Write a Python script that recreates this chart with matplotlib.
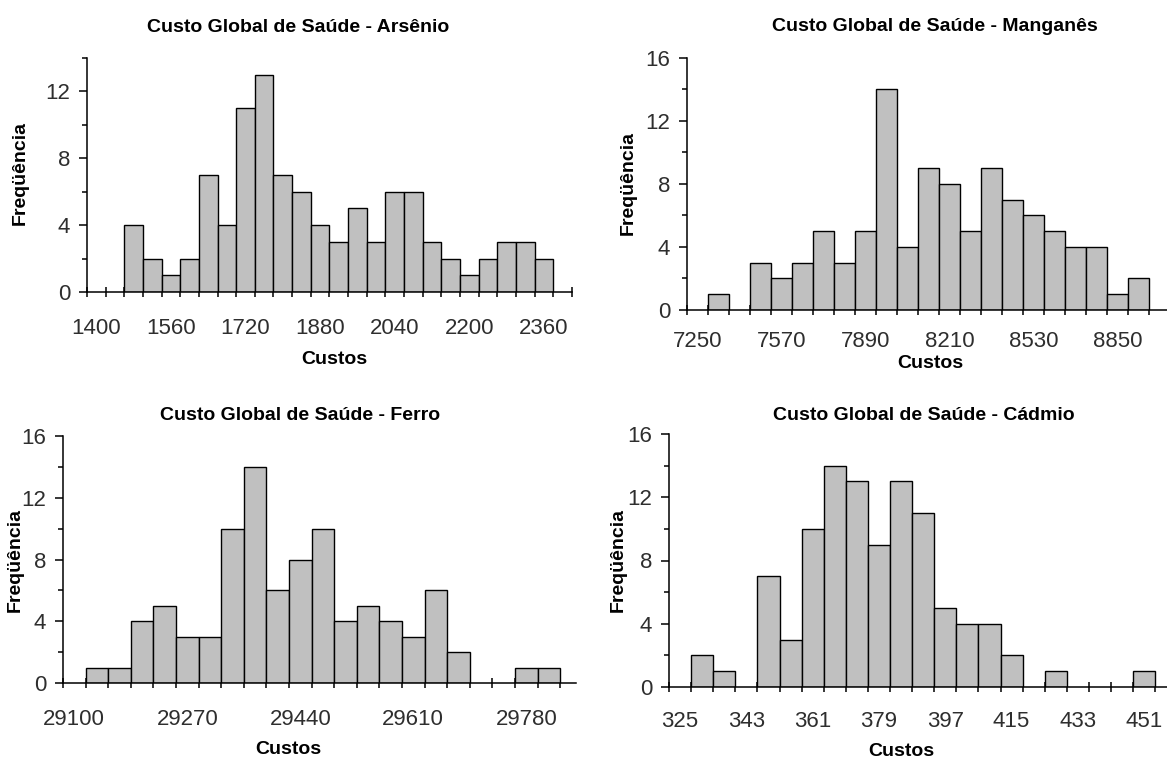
import numpy as np
import matplotlib
matplotlib.use("Agg")
import matplotlib.pyplot as plt
from matplotlib.ticker import FixedLocator, NullFormatter

W, H, DPI = 1167, 761, 100

# Class frequencies of the global health cost, one histogram per metal
arsenio_start, arsenio_width = 1380, 40
arsenio_counts = [0, 0, 4, 2, 1, 2, 7, 4, 11, 13, 7, 6, 4, 3, 5, 3, 6, 6, 3, 2, 1, 2, 3, 3, 2]
arsenio_ticks = [1400, 1560, 1720, 1880, 2040, 2200, 2360]

manganes_start, manganes_width = 7210, 80
manganes_counts = [0, 1, 0, 3, 2, 3, 5, 3, 5, 14, 4, 9, 8, 5, 9, 7, 6, 5, 4, 4, 1, 2]
manganes_ticks = [7250, 7570, 7890, 8210, 8530, 8850]

ferro_start, ferro_width = 29083, 34
ferro_counts = [0, 1, 1, 4, 5, 3, 3, 10, 14, 6, 8, 10, 4, 5, 4, 3, 6, 2, 0, 0, 1, 1]
ferro_ticks = [29100, 29270, 29440, 29610, 29780]

cadmio_start, cadmio_width = 322, 6
cadmio_counts = [0, 2, 1, 0, 7, 3, 10, 14, 13, 9, 13, 11, 5, 4, 4, 2, 0, 1, 0, 0, 0, 1]
cadmio_ticks = [325, 343, 361, 379, 397, 415, 433, 451]

TITLE = "Custo Global de Saúde - {}"
TICK_FONT = ["Liberation Sans", "DejaVu Sans"]
LABEL_FONT = ["Liberation Sans", "DejaVu Sans"]
TICK_COLOR = "#2e2e2e"

fig = plt.figure(figsize=(W / DPI, H / DPI), dpi=DPI)
fig.patch.set_facecolor("white")


def panel(start, width, counts, ticks, name, geom):
    left, top, bottom = geom["left"], geom["top"], geom["bottom"]
    span = geom["axis_bins"] * width
    px_w = geom["px_per_bin"] * geom["axis_bins"]
    ax = fig.add_axes([left / W, 1 - bottom / H, px_w / W, (bottom - top) / H])

    counts = np.asarray(counts)
    edges = start + width * np.arange(len(counts))
    shown = counts > 0
    ax.bar(edges[shown], counts[shown], width=width, align="edge",
           color="#c0c0c0", edgecolor="black", linewidth=1.0, zorder=2)

    ax.set_xlim(start, start + span)
    ax.set_ylim(0, geom["ymax"])

    for side in ("top", "right"):
        ax.spines[side].set_visible(False)
    for side in ("left", "bottom"):
        ax.spines[side].set_linewidth(1.1)
        ax.spines[side].set_zorder(3)

    # x: labels at class midpoints, ticks at every class boundary
    ax.xaxis.set_major_locator(FixedLocator(ticks))
    ax.xaxis.set_minor_locator(FixedLocator(start + width * np.arange(geom["axis_bins"] + 1)))
    ax.xaxis.set_minor_formatter(NullFormatter())
    ax.tick_params(axis="x", which="major", length=0, pad=geom["xpad"],
                   labelsize=16, labelcolor=TICK_COLOR, labelfontfamily=TICK_FONT)
    ax.tick_params(axis="x", which="minor", direction="inout", length=7.5,
                   width=1.1, color="black")

    ymajor = list(range(0, geom["ymax"] + 1, 4))
    yminor = [v for v in range(2, geom["ymax"] + 1, 4)]
    ax.yaxis.set_major_locator(FixedLocator(ymajor))
    ax.yaxis.set_minor_locator(FixedLocator(yminor))
    ax.yaxis.set_minor_formatter(NullFormatter())
    ax.tick_params(axis="y", which="major", direction="out", length=6, width=1.1,
                   pad=6, labelsize=16, labelcolor=TICK_COLOR, labelfontfamily=TICK_FONT)
    ax.tick_params(axis="y", which="minor", direction="out", length=3.5, width=1.1)

    tx, ty = geom["title"]
    ax.set_title(TITLE.format(name), fontsize=14, fontweight="bold",
                 family=LABEL_FONT, va="center", pad=0,
                 x=(tx - left) / px_w, y=(bottom - ty) / (bottom - top))

    ax.set_xlabel("Custos", fontsize=14, fontweight="bold", family=LABEL_FONT, va="center")
    cx, cy = geom["xlabel"]
    ax.xaxis.set_label_coords(cx / W, 1 - cy / H, transform=fig.transFigure)

    ax.set_ylabel("Freqüência", fontsize=14, fontweight="bold", family=LABEL_FONT,
                  va="center", ha="center")
    lx, ly = geom["ylabel"]
    ax.yaxis.set_label_coords(lx / W, 1 - ly / H, transform=fig.transFigure)
    return ax


panel(arsenio_start, arsenio_width, arsenio_counts, arsenio_ticks, "Arsênio",
      dict(left=87, top=58, bottom=292, px_per_bin=18.65, axis_bins=26, ymax=14,
           xpad=19, title=(298, 27), xlabel=(334, 360), ylabel=(20, 173)))
panel(manganes_start, manganes_width, manganes_counts, manganes_ticks, "Manganês",
      dict(left=687, top=58, bottom=310, px_per_bin=21.0, axis_bins=23, ymax=16,
           xpad=15, title=(935, 27), xlabel=(930, 363), ylabel=(628, 183)))
panel(ferro_start, ferro_width, ferro_counts, ferro_ticks, "Ferro",
      dict(left=63, top=436, bottom=683, px_per_bin=22.6, axis_bins=22.7, ymax=16,
           xpad=19, title=(300, 416), xlabel=(288, 750), ylabel=(15, 560)))
panel(cadmio_start, cadmio_width, cadmio_counts, cadmio_ticks, "Cádmio",
      dict(left=669, top=434, bottom=687, px_per_bin=22.1, axis_bins=23, ymax=16,
           xpad=17, title=(924, 416), xlabel=(901, 752), ylabel=(618, 560)))

fig.savefig("out.png", dpi=DPI, facecolor="white")
